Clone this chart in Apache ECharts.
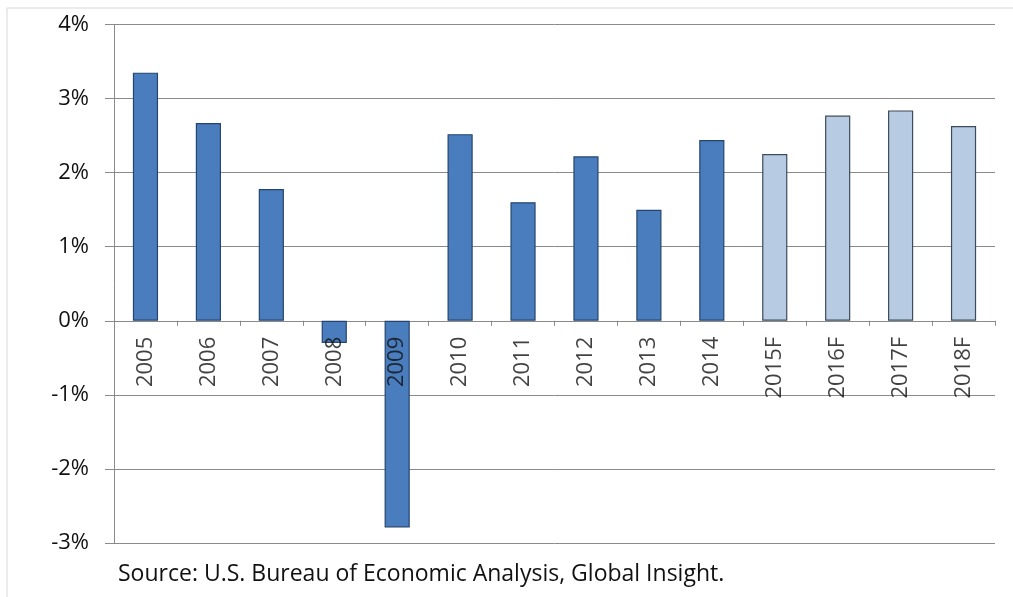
<!DOCTYPE html>
<html>
<head>
<meta charset="utf-8">
<script src="https://cdn.jsdelivr.net/npm/echarts@6/dist/echarts.min.js"></script>
<style>html,body{margin:0;padding:0;background:#fff;}#c{width:1013px;height:597px;}</style>
</head>
<body>
<div id="c"></div>
<script>
var categories = ['2005','2006','2007','2008','2009','2010','2011','2012','2013','2014','2015F','2016F','2017F','2018F'];
var values = [3.35, 2.67, 1.78, -0.30, -2.79, 2.52, 1.60, 2.22, 1.50, 2.44, 2.25, 2.77, 2.84, 2.63];
var isForecast = [false,false,false,false,false,false,false,false,false,false,true,true,true,true];
var yTicks = [-3, -2, -1, 0, 1, 2, 3, 4];
var sourceText = 'Source: U.S. Bureau of Economic Analysis, Global Insight.';

var font = '"Open Sans", Lato, sans-serif';
var chart = echarts.init(document.getElementById('c'), null, {renderer: 'canvas'});
var data = values.map(function (v, i) {
  return {
    value: v,
    itemStyle: isForecast[i]
      ? {color: '#B7CBE3', borderColor: '#3E4B5B', borderWidth: 1.2}
      : {color: '#4A7DBE', borderColor: '#25456E', borderWidth: 1.2}
  };
});
var labelData = categories.map(function (c) { return [c, 0]; });
chart.setOption({
  animation: false,
  backgroundColor: '#fff',
  grid: {left: 114, right: 18, top: 24.5, bottom: 54, containLabel: false, outerBoundsMode: 'none'},
  xAxis: {
    type: 'category',
    data: categories,
    axisLine: {onZero: true, lineStyle: {color: '#8a8a8a', width: 1}},
    axisTick: {show: true, alignWithLabel: false, length: 5, lineStyle: {color: '#8a8a8a'}},
    axisLabel: {show: false},
    splitLine: {show: false}
  },
  yAxis: {
    type: 'value',
    min: yTicks[0],
    max: yTicks[yTicks.length - 1],
    interval: 1,
    axisLine: {show: true, lineStyle: {color: '#8a8a8a'}},
    axisTick: {show: true, length: 9, lineStyle: {color: '#8a8a8a'}},
    axisLabel: {formatter: function (v) { return v + '%'; }, color: '#111', fontSize: 22, fontFamily: font, margin: 25},
    splitLine: {show: true, lineStyle: {color: '#8a8a8a', width: 1}}
  },
  series: [{
    type: 'bar',
    data: data,
    barWidth: '40%',
    z: 2
  }, {
    type: 'scatter',
    data: labelData,
    symbolSize: 0,
    z: 5,
    silent: true,
    label: {
      show: true,
      formatter: function (p) { return p.value[0]; },
      position: [0, 16],
      rotate: 90,
      align: 'right',
      verticalAlign: 'middle',
      color: '#111',
      fontSize: 22,
      fontFamily: font
    }
  }],
  graphic: [
    {type: 'line', shape: {x1: 7, y1: 8, x2: 1013, y2: 8}, style: {stroke: '#d8d8d8', lineWidth: 1}},
    {type: 'line', shape: {x1: 7, y1: 8, x2: 7, y2: 597}, style: {stroke: '#d8d8d8', lineWidth: 1}},
    {type: 'text', left: 118, top: 563, style: {text: sourceText, fontSize: 23, fontFamily: font, fill: '#111'}}
  ]
});
</script>
</body>
</html>
